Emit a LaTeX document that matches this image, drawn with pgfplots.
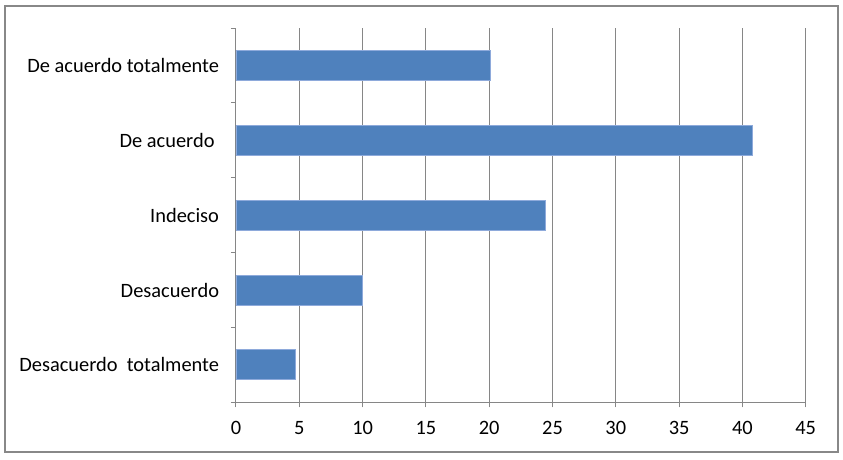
\documentclass[border=0pt]{standalone}
\usepackage{fontspec}
\setmainfont{Carlito}
\usepackage{pgfplots}
\pgfplotsset{compat=1.18}
\definecolor{barblue}{HTML}{4F81BD}
\definecolor{baredge}{HTML}{8EAADB}
\definecolor{gridgray}{HTML}{868686}
\definecolor{framegray}{HTML}{888888}
\begin{document}
\fontsize{20.4}{24}\selectfont
\begin{tikzpicture}
\path[use as bounding box] (-236pt,-56.7pt) rectangle (607pt,402.3pt);
\draw[framegray, line width=2pt] (-231pt,-49.7pt) rectangle (602pt,396.3pt);
\begin{axis}[
    at={(0,0)}, anchor=south west,
    scale only axis,
    width=569.7pt, height=374.3pt,
    xbar, bar width=30pt,
    xmin=0, xmax=45, xtick={0,5,...,45},
    ymin=-0.5, ymax=4.5,
    ytick={-0.5,0.5,...,4.5}, yticklabels={},
    extra y ticks={0,1,2,3,4},
    extra y tick labels={Desacuerdo\ \ totalmente, Desacuerdo, Indeciso, De acuerdo\kern4.5pt, De acuerdo totalmente},
    extra y tick style={tick style={draw=none}, grid=none,
        yticklabel style={xshift=-5pt}},
    axis x line=bottom, axis y line=left,
    axis line style={-, gridgray, line width=1pt},
    xmajorgrids, grid style={gridgray, line width=1pt},
    tick align=outside, major tick length=5pt,
    tick style={gridgray, line width=1pt},
    tick label style={font=\fontsize{20.4}{24}\selectfont},
    xticklabel style={yshift=-7pt},
    /pgf/number format/assume math mode=true,
]
\addplot[fill=barblue, draw=baredge, line width=0.8pt] coordinates {
    (4.7,0) (10,1) (24.4,2) (40.8,3) (20.1,4)
};
\end{axis}
\end{tikzpicture}
\end{document}
